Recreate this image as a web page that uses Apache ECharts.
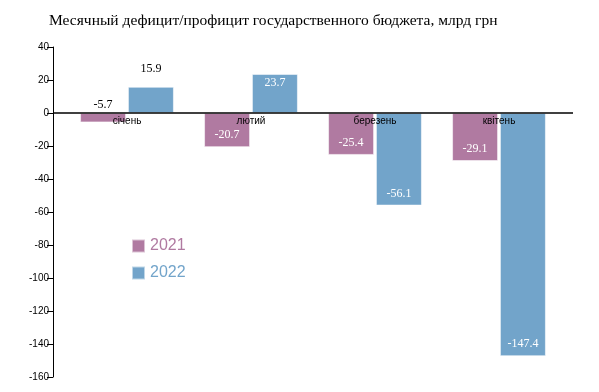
<!DOCTYPE html>
<html>
<head>
<meta charset="utf-8">
<script src="https://cdn.jsdelivr.net/npm/echarts@6/dist/echarts.min.js"></script>
<style>html,body{margin:0;padding:0;background:#fff}#c{width:599px;height:392px}</style>
</head>
<body>
<div id="c"></div>
<script>
const titleText = 'Месячный дефицит/профицит государственного бюджета, млрд грн';
const categories = ['січень', 'лютий', 'березень', 'квітень'];
const seriesNames = ['2021', '2022'];
const values2021 = [-5.7, -20.7, -25.4, -29.1];
const values2022 = [15.9, 23.7, -56.1, -147.4];
const yTicks = [-160, -140, -120, -100, -80, -60, -40, -20, 0, 20, 40];
const colors = ['#b07aa1', '#72a4ca'];

function labelFor(v) {
  const short = Math.abs(v) < 18;
  if (short) {
    return v >= 0
      ? { position: 'top', distance: 12, color: '#000' }
      : { position: 'insideBottom', distance: 12, color: '#000' };
  }
  return v >= 0
    ? { position: 'insideTop', distance: 3, color: '#fff' }
    : { position: 'insideBottom', distance: 6, color: '#fff' };
}
function buildData(arr) {
  return arr.map(v => ({ value: v, label: labelFor(v) }));
}

const chart = echarts.init(document.getElementById('c'));
const option = {
  animation: false,
  title: {
    text: titleText, left: 44, top: 8,
    textStyle: { fontFamily: 'Liberation Serif', fontSize: 15.5, fontWeight: 'normal', color: '#000' }
  },
  legend: {
    orient: 'vertical', left: 126, top: 233, icon: 'rect',
    itemWidth: 13, itemHeight: 13, itemGap: 11,
    data: seriesNames.map((n, i) => ({ name: n, textStyle: { color: colors[i] } })),
    textStyle: { fontFamily: 'Liberation Sans', fontSize: 16 }
  },
  grid: { left: 65, right: 38, top: 47, bottom: 15 },
  xAxis: {
    type: 'category', data: categories, z: 10, position: 'bottom',
    axisLine: { show: false, onZero: false },
    axisTick: { show: false },
    axisLabel: { color: '#000', fontFamily: 'Liberation Sans', fontSize: 10, margin: 3 }
  },
  yAxis: {
    type: 'value', min: yTicks[0], max: yTicks[yTicks.length - 1], interval: 20,
    offset: 12,
    axisLine: { show: true, lineStyle: { color: '#000', width: 1 } },
    axisTick: { show: true, length: 6, lineStyle: { color: '#000' } },
    splitLine: { show: false },
    axisLabel: { color: '#000', fontFamily: 'Liberation Sans', fontSize: 10, margin: 4 }
  },
  series: [values2021, values2022].map((arr, i) => ({
    name: seriesNames[i], type: 'bar', data: buildData(arr),
    barWidth: 46, barGap: '4%',
    itemStyle: { color: colors[i], borderColor: 'rgba(255,255,255,0.55)', borderWidth: 1 },
    label: { show: true, fontFamily: 'Liberation Serif', fontSize: 12 }
  }))
};
chart.setOption(option);
const y0 = chart.convertToPixel({ yAxisIndex: 0 }, 0);
const yMinPx = chart.convertToPixel({ yAxisIndex: 0 }, yTicks[0]);
chart.setOption({
  xAxis: { offset: -(yMinPx - y0) },
  graphic: [{
    type: 'line', z: 20,
    shape: { x1: 65 - 12, y1: y0, x2: 599 - 38 + 12, y2: y0 },
    style: { stroke: '#000', lineWidth: 1.5 }
  }]
});
</script>
</body>
</html>
